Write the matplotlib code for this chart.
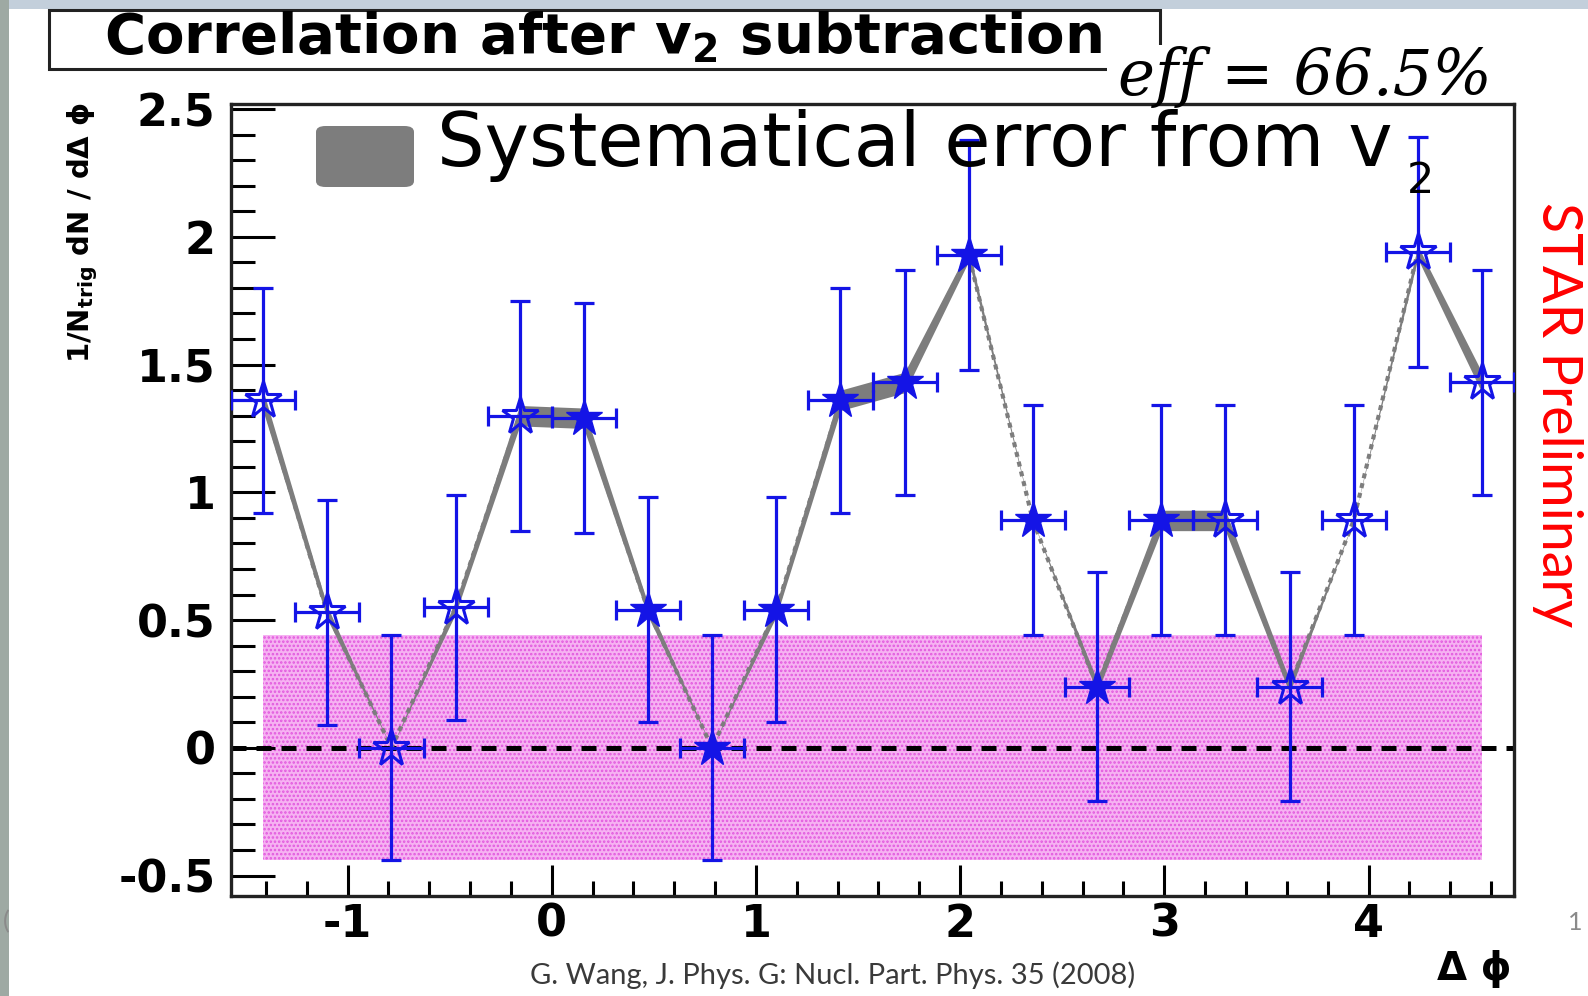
import numpy as np
import matplotlib.pyplot as plt
from matplotlib.patches import Rectangle, FancyBboxPatch
from matplotlib.ticker import MultipleLocator, FixedLocator, FixedFormatter

plt.rcParams['axes.unicode_minus'] = False
plt.rcParams['mathtext.fontset'] = 'dejavusans'
plt.rcParams['hatch.linewidth'] = 1.2

W, H = 1588, 996

# Delta-phi bin centres, 20 bins over [-pi/2, 3pi/2]
dphi = [-1.414, -1.100, -0.785, -0.471, -0.157, 0.157, 0.471, 0.785, 1.100, 1.414,
        1.728, 2.042, 2.356, 2.670, 2.985, 3.299, 3.613, 3.927, 4.241, 4.555]
# correlation after v2 subtraction
corr = [1.36, 0.53, 0.00, 0.55, 1.30, 1.29, 0.54, 0.00, 0.54, 1.36,
        1.43, 1.93, 0.89, 0.24, 0.89, 0.89, 0.24, 0.89, 1.94, 1.43]
stat_err = [0.44, 0.44, 0.44, 0.44, 0.45, 0.45, 0.44, 0.44, 0.44, 0.44,
            0.44, 0.45, 0.45, 0.45, 0.45, 0.45, 0.45, 0.45, 0.45, 0.44]
# systematic error from v2
sys_v2 = [0.04, 0.025, 0.0, 0.025, 0.04, 0.04, 0.025, 0.0, 0.025, 0.04,
          0.04, 0.025, 0.0, 0.025, 0.04, 0.04, 0.025, 0.0, 0.025, 0.04]
# 1 = reflected bin (open star), 0 = measured bin (filled star)
reflected = [1, 1, 1, 1, 1, 0, 0, 0, 0, 0, 0, 0, 0, 0, 0, 1, 1, 1, 1, 1]
bin_half = 0.157
band_lo, band_hi = -0.44, 0.44

xticks = [-1, 0, 1, 2, 3, 4]
yticks = [-0.5, 0, 0.5, 1, 1.5, 2, 2.5]
ytick_labels = ['-0.5', '0', '0.5', '1', '1.5', '2', '2.5']

blue = '#1414e6'
grey = '#7d7d7d'


def fx(px):
    return px / W


def fy(py):
    return 1 - py / H


fig = plt.figure(figsize=(W / 100, H / 100), dpi=100)
fig.patch.set_facecolor('white')

# slide background strips along the top and left edges
fig.patches.append(Rectangle((0, fy(9)), 1, 9 / H, transform=fig.transFigure,
                             facecolor='#c3cfdb', edgecolor='none', zorder=0))
fig.patches.append(Rectangle((0, 0), 9 / W, 1, transform=fig.transFigure,
                             facecolor='#9ea9a3', edgecolor='none', zorder=0))

ax = fig.add_axes([fx(231), fy(896), fx(1514) - fx(231), fy(104) - fy(896)])
ax.set_xlim(-np.pi / 2, 3 * np.pi / 2)
ax.set_ylim(-0.58, 2.52)

x = np.array(dphi)
y = np.array(corr)
s = np.array(sys_v2)
ref = np.array(reflected, dtype=bool)

# v2 uncertainty band around zero
ax.fill_between([dphi[0], dphi[-1]], band_lo, band_hi, facecolor='#f6b2f2',
                hatch='....', edgecolor='#e258de', linewidth=0, zorder=1)
ax.axhline(0, color='black', lw=3.6, ls=(0, (3, 2)), zorder=2)

# systematic band from v2
ax.fill_between(x, y - s, y + s, color=grey, linewidth=0, zorder=3)
ax.plot(x, y, ls=(0, (1.2, 1.2)), color=grey, lw=3, zorder=3)

ax.errorbar(x, y, yerr=stat_err, xerr=bin_half, fmt='none', ecolor=blue,
            elinewidth=2.3, capsize=7, capthick=2.3, zorder=4)
ax.plot(x[~ref], y[~ref], ls='none', marker='*', ms=28, color=blue,
        mec=blue, zorder=5)
ax.plot(x[ref], y[ref], ls='none', marker='*', ms=28, mfc='none',
        mec=blue, mew=2.2, zorder=5)

# ROOT-style frame and ticks
for side in ['left', 'bottom', 'top', 'right']:
    ax.spines[side].set_linewidth(2.4)
    ax.spines[side].set_color('#222222')
ax.xaxis.set_major_locator(FixedLocator(xticks))
ax.xaxis.set_minor_locator(MultipleLocator(0.2))
ax.yaxis.set_major_locator(FixedLocator(yticks))
ax.yaxis.set_major_formatter(FixedFormatter(ytick_labels))
ax.yaxis.set_minor_locator(MultipleLocator(0.1))
ax.tick_params(axis='y', which='major', direction='in', length=32, width=2.2,
               pad=11, labelsize=32)
ax.tick_params(axis='y', which='minor', direction='in', length=17, width=2.2)
ax.tick_params(axis='x', which='major', direction='in', length=22, width=2.2,
               pad=5, labelsize=32)
ax.tick_params(axis='x', which='minor', direction='in', length=11, width=2.2)
for lab in ax.get_xticklabels() + ax.get_yticklabels():
    lab.set_fontweight('bold')

# legend
fig.patches.append(FancyBboxPatch((fx(316), fy(187)), fx(414) - fx(316), fy(126) - fy(187),
                                  boxstyle='round,pad=0,rounding_size=0.006',
                                  transform=fig.transFigure, facecolor=grey,
                                  edgecolor='none', zorder=6))
fig.text(fx(437), fy(166), 'Systematical error from v', fontsize=54,
         ha='left', va='baseline', zorder=7)
fig.text(fx(1420), fy(181), '2', fontsize=31, ha='center', va='center', zorder=7)

# title box
fig.patches.append(Rectangle((fx(49), fy(69)), fx(1160) - fx(49), fy(10) - fy(69),
                             transform=fig.transFigure, facecolor='white',
                             edgecolor='#222222', linewidth=2.2, zorder=2))
fig.text(fx(603), fy(38), r'Correlation after v$_\mathbf{2}$ subtraction',
         fontsize=40.5, fontweight='bold', ha='center', va='center', zorder=3)
fig.patches.append(Rectangle((fx(1107), fy(100)), fx(1512) - fx(1107), fy(45) - fy(100),
                             transform=fig.transFigure, facecolor='white',
                             edgecolor='none', zorder=4))
fig.text(fx(1305), fy(78), r'eff = 66.5%', family='DejaVu Serif',
         style='italic', fontsize=45, ha='center', va='center', zorder=5)

# axis titles
fig.text(fx(83), fy(233), r'1/N$_{\mathbf{trig}}$ dN / dΔ ϕ', fontsize=21,
         fontweight='bold', rotation=90, ha='center', va='center')
fig.text(fx(1512), fy(969), 'Δ ϕ', fontsize=28, fontweight='bold',
         ha='right', va='center')

fig.text(fx(1557), fy(415), 'STAR Preliminary', family='Lato', fontsize=40,
         color='red', rotation=-90, ha='center', va='center')
fig.text(fx(833), fy(975), 'G. Wang, J. Phys. G: Nucl. Part. Phys. 35 (2008)',
         family='Lato', fontsize=21, color='#3a3a3a', ha='center', va='center')
fig.text(fx(1568), fy(922), '1', family='Lato', fontsize=18, color='#8a8a8a',
         ha='left', va='center')
fig.text(fx(3), fy(922), '(', family='Lato', fontsize=18, color='#8a8a8a',
         ha='left', va='center')

fig.savefig('out.png', dpi=100)
